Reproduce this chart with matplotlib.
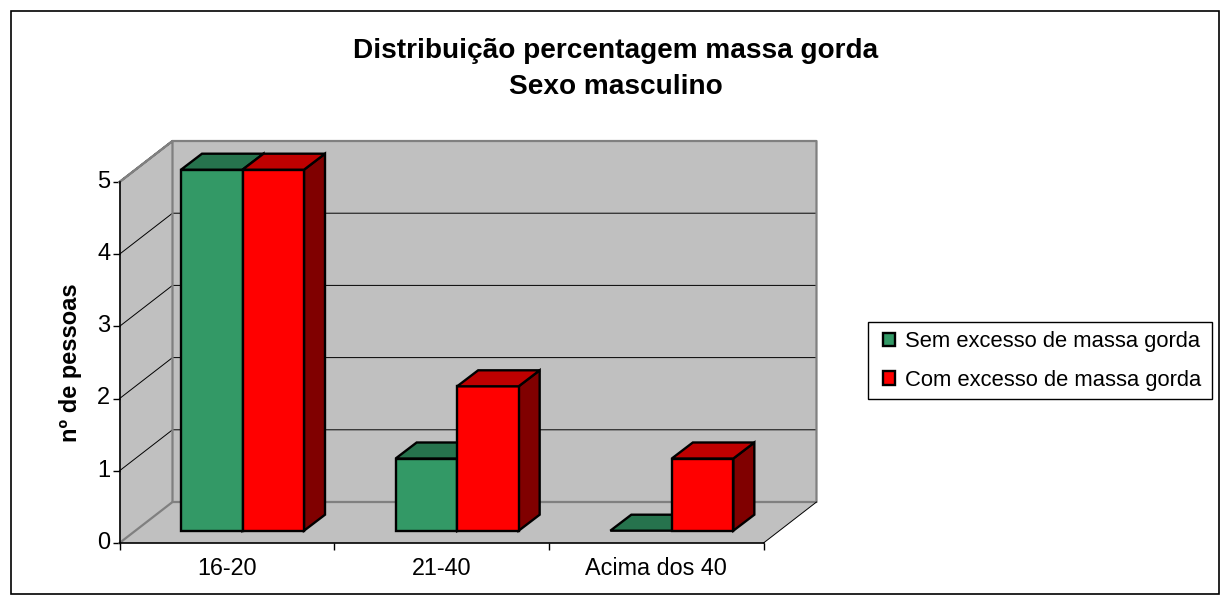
import numpy as np
import matplotlib
matplotlib.use('Agg')
import matplotlib.pyplot as plt
from matplotlib.patches import Patch, Rectangle
from matplotlib.transforms import ScaledTranslation

categories = ['16-20', '21-40', 'Acima dos 40']
sem_excesso = [5, 1, 0]
com_excesso = [5, 2, 1]
series_names = ['Sem excesso de massa gorda', 'Com excesso de massa gorda']
yticks = [0, 1, 2, 3, 4, 5]

W, H = 1231, 604
plt.rcParams['font.family'] = ['Liberation Sans', 'DejaVu Sans']

fig = plt.figure(figsize=(W/100, H/100), dpi=100, facecolor='white')
# front plane of the 3d box, in pixels
x0, x1, ytop, ybot = 119.5, 763.5, 182, 543
ax = fig.add_axes([x0/W, 1-ybot/H, (x1-x0)/W, (ybot-ytop)/H])
ax.set_xlim(0, 3)
ax.set_ylim(0, 5)
ax.patch.set_visible(False)

px = 3/(x1-x0)     # data units per pixel
py = 5/(ybot-ytop)
dx, dy = 53*px, 41*py          # depth of box
bx, by = 21*px, 16*py          # depth of a bar
sx, sy = 61.5*px, 12.3*py      # bar offset from front plane
bw = 61.5*px

wall = '#c0c0c0'
edge = '#808080'
# walls
ax.fill([dx, 3+dx, 3+dx, dx], [dy, dy, 5+dy, 5+dy], fc=wall, ec='none', clip_on=False, zorder=1)
ax.fill([0, dx, dx, 0], [0, dy, 5+dy, 5], fc=wall, ec='none', clip_on=False, zorder=1)
ax.fill([0, 3, 3+dx, dx], [0, 0, dy, dy], fc=wall, ec='none', clip_on=False, zorder=1)
# grid
for v in yticks[1:]:
    ax.plot([0, dx, 3+dx], [v, v+dy, v+dy], color='black', lw=0.7, clip_on=False, zorder=2)
ax.plot([0, dx, 3+dx, 3+dx, dx, dx, 0], [5, 5+dy, 5+dy, dy, dy, 5+dy, 5], color=edge, lw=1.6, clip_on=False, zorder=3)
ax.plot([0, dx], [0, dy], color=edge, lw=1.6, clip_on=False, zorder=3)
ax.plot([3, 3+dx], [0, dy], color='black', lw=0.7, clip_on=False, zorder=3)


def bar3d(left, val, front, top, side, z):
    kw = dict(ec='black', lw=1.7, clip_on=False, zorder=z, joinstyle='miter')
    t = val + sy
    if val > 0:
        ax.fill([left+bw, left+bw+bx, left+bw+bx, left+bw], [sy, sy+by, t+by, t], fc=side, **kw)
        ax.fill([left, left+bw, left+bw, left], [sy, sy, t, t], fc=front, **kw)
    ax.fill([left, left+bw, left+bw+bx, left+bx], [t, t, t+by, t+by], fc=top, **kw)


for i in range(len(categories)):
    bar3d(i+sx, sem_excesso[i], '#339966', '#26734d', '#1a4d33', 5+i)
    bar3d(i+sx+bw, com_excesso[i], '#ff0000', '#bf0000', '#800000', 5.5+i)

ax.set_xticks([0, 1, 2, 3])
ax.set_xticklabels([])
for i, c in enumerate(categories):
    ax.text(i+0.5, -0.35, c, ha='center', va='center', fontsize=16.8)
ax.set_yticks(yticks)
ax.tick_params(axis='both', length=5, width=1, labelsize=17, pad=1.5, direction='out')
for lbl in ax.get_yticklabels():
    lbl.set_transform(lbl.get_transform() + ScaledTranslation(0, 2/72, fig.dpi_scale_trans))
for s in ['top', 'right']:
    ax.spines[s].set_visible(False)
ax.set_axisbelow(False)
for s in ['left', 'bottom']:
    ax.spines[s].set_zorder(4)
    ax.spines[s].set_linewidth(1.2)

fig.text(71/W, 1-363/H, 'nº de pessoas', rotation=90, ha='center', va='center',
         fontsize=17, fontweight='bold')
fig.text(616/W, 1-69/H, 'Distribuição percentagem massa gorda\nSexo masculino', ha='center',
         va='center', fontsize=20.2, fontweight='bold', linespacing=1.5)

fig.add_artist(Rectangle((10.5/W, 1-593.5/H), 1208.5/W, 583/H, transform=fig.transFigure,
                         fc='none', ec='black', lw=1.2))

handles = [Patch(fc='#339966', ec='black', lw=1.7), Patch(fc='#ff0000', ec='black', lw=1.7)]
fig.add_artist(Rectangle((867.5/W, 1-399/H), 344.5/W, 77/H, transform=fig.transFigure,
                         fc='white', ec='black', lw=1))
leg = fig.legend(handles, series_names, loc='center', bbox_to_anchor=(1042.5/W, 1-361/H),
                 frameon=False, fontsize=15.8, handlelength=0.55, handleheight=0.55,
                 handletextpad=0.45, labelspacing=0.8, borderpad=0)

fig.savefig('out.png', dpi=100, facecolor='white')
